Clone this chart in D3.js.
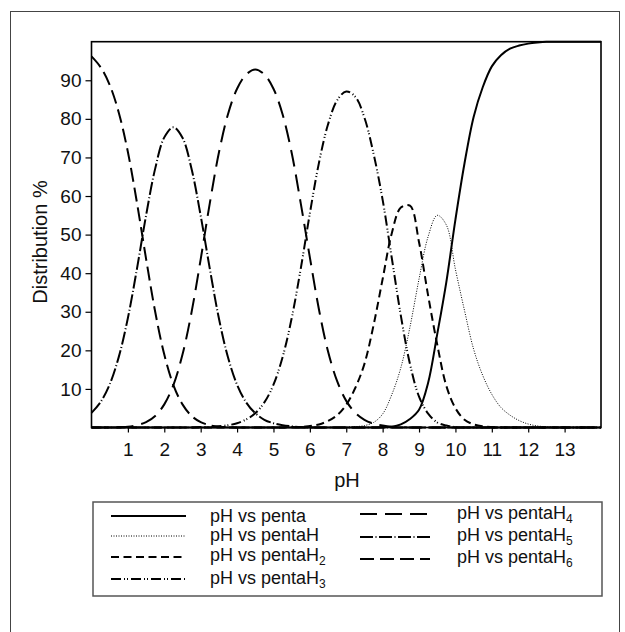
<!DOCTYPE html>
<html>
<head>
<meta charset="UTF-8">
<title>speciation</title>
<script src="https://d3js.org/d3.v7.min.js"></script>
<style>
 body { margin: 0; background: #fff; }
 text { font-family: "Liberation Sans", Arial, sans-serif; fill: #111; }
</style>
</head>
<body>
<svg id="chart" width="625" height="632"></svg>
<script>
// pH grid (x values)
var pH = [0, 0.25, 0.5, 0.75, 1, 1.25, 1.5, 1.75, 2, 2.25, 2.5, 2.75, 3, 3.25, 3.5, 3.75,
  4, 4.25, 4.5, 4.75, 5, 5.25, 5.5, 5.75, 6, 6.25, 6.5, 6.75, 7, 7.25, 7.5, 7.75,
  8, 8.25, 8.5, 8.75, 9, 9.25, 9.5, 9.75, 10, 10.25, 10.5, 10.75, 11, 11.25, 11.5, 11.75,
  12, 12.25, 12.5, 12.75, 13, 13.25, 13.5, 13.75, 14];

// distribution %
var penta = [0,0,0,0,0,0,0,0,0,0,0,0,0,0,0,0,0,0,0,0,0,0,0,0,0,0,0,0,0,0,0,0,
  0.1, 0.2, 0.8, 2.2, 4.6, 11.6, 24.2, 37.7, 53.9, 68.5, 80.5, 88.2, 93.6, 96.5, 98.2, 99.0,
  99.5, 99.8, 100, 100, 100, 100, 100, 100, 100];
var pentaH = [0,0,0,0,0,0,0,0,0,0,0,0,0,0,0,0,0,0,0,0,0,0,0,0,0,0,0,0,
  0.1, 0.2, 0.5, 1.3, 3.5, 8.5, 15.5, 26.0, 38.5, 49.5, 55.0, 52.5, 41.0, 30.3, 20.3, 13.5,
  8.6, 5.2, 3.2, 1.8, 0.9, 0.4, 0.2, 0.1, 0, 0, 0, 0, 0];
var pentaH2 = [0,0,0,0,0,0,0,0,0,0,0,0,0,0,0,0,0,0,0,0,0,0,
  0.1, 0.1, 0.4, 0.8, 1.7, 3.2, 5.9, 10.3, 16.5, 26.5, 38.5, 50.3, 57.0, 57.5, 48.0, 34.2,
  21.5, 10.8, 5.0, 2.0, 0.8, 0.3, 0.1, 0,0,0,0,0,0,0,0,0,0,0,0];
var pentaH3 = [0,0,0,0,0,0,0,0,0,0,0,0,
  0.1, 0.1, 0.3, 0.6, 1.1, 2.1, 3.7, 6.5, 11.1, 18.2, 28.3, 41.2, 55.5, 68.6, 78.6, 84.8,
  87.1, 85.7, 80.3, 71.0, 59.0, 44.0, 29.0, 16.5, 8.0, 3.6, 1.3, 0.5, 0.1,
  0,0,0,0,0,0,0,0,0,0,0,0,0,0,0,0];
var pentaH4 = [0, 0, 0, 0.1, 0.2, 0.6, 1.4, 3.0, 6.0, 11.0, 18.9, 29.9, 43.6, 58.1, 71.2, 81.2,
  87.8, 91.5, 92.8, 91.5, 87.8, 81.2, 71.2, 58.1, 44.1, 30.6, 19.7, 12.0, 6.9, 3.8, 2.0, 1.0,
  0.5, 0.2, 0.1, 0,0,0,0,0,0,0,0,0,0,0,0,0,0,0,0,0,0,0,0,0,0];
var pentaH5 = [3.8, 6.6, 11.2, 18.3, 28.4, 41.2, 55.0, 67.1, 75.2, 77.8, 75.1, 67.0, 54.9, 41.2, 28.3, 18.2,
  11.1, 6.5, 3.7, 2.0, 1.1, 0.6, 0.3, 0.1,
  0,0,0,0,0,0,0,0,0,0,0,0,0,0,0,0,0,0,0,0,0,0,0,0,0,0,0,0,0,0,0,0,0];
var pentaH6 = [96.2, 93.4, 88.8, 81.6, 71.4, 58.2, 43.7, 30.0, 18.9, 11.0, 6.0, 3.0, 1.4, 0.6, 0.2, 0.1,
  0,0,0,0,0,0,0,0,0,0,0,0,0,0,0,0,0,0,0,0,0,0,0,0,0,0,0,0,0,0,0,0,0,0,0,0,0,0,0,0,0];

var xTicks = [1,2,3,4,5,6,7,8,9,10,11,12,13];
var yTicks = [10,20,30,40,50,60,70,80,90];

var seriesNames = ["penta", "pentaH", "pentaH2", "pentaH3", "pentaH4", "pentaH5", "pentaH6"];
var seriesVals = [penta, pentaH, pentaH2, pentaH3, pentaH4, pentaH5, pentaH6];

// line styles per species
var styles = [
  {dash: null,            w: 2.0},
  {dash: "1,1.5",         w: 1.0},
  {dash: "8,4.5",         w: 2.0},
  {dash: "10,3,1,2,1,3",  w: 2.0},
  {dash: "17,8",          w: 2.0},
  {dash: "13,2.5,1,2.5",  w: 2.0},
  {dash: "14,6",          w: 2.0}
];

var svg = d3.select("#chart");
svg.append("rect").attr("width", 625).attr("height", 632).attr("fill", "#fff");

// outer frame
svg.append("rect")
  .attr("x", 10.5).attr("y", 11.5).attr("width", 609).attr("height", 640)
  .attr("fill", "none").attr("stroke", "#444").attr("stroke-width", 1);

var L = 91.5, R = 601, T = 41.7, B = 427.5;

var x = d3.scaleLinear().domain([0, 14]).range([L, R]);
var y = d3.scaleLinear().domain([0, 100]).range([B, T]);

var g = svg.append("g");

var line = d3.line()
  .x(function(d, i) { return x(pH[i]); })
  .y(function(d) { return y(d); })
  .curve(d3.curveCatmullRom.alpha(0.5));

seriesVals.forEach(function(vals, k) {
  g.append("path")
    .datum(vals)
    .attr("d", line)
    .attr("fill", "none")
    .attr("stroke", "#000")
    .attr("stroke-width", styles[k].w)
    .attr("stroke-dasharray", styles[k].dash);
});

// plot frame
svg.append("rect")
  .attr("x", L).attr("y", T).attr("width", R - L).attr("height", B - T)
  .attr("fill", "none").attr("stroke", "#000").attr("stroke-width", 1.6);

var yAxis = d3.axisLeft(y).tickValues(yTicks).tickSize(6).tickSizeOuter(0).tickPadding(4);
var gy = svg.append("g").attr("transform", "translate(" + L + ",0)").call(yAxis);
gy.select(".domain").remove();
gy.selectAll("line").attr("stroke", "#000").attr("stroke-width", 1.2);
gy.selectAll("text").style("font-size", "19px").style("font-family", '"Liberation Sans", Arial, sans-serif').attr("fill", "#111");

var xAxis = d3.axisBottom(x).tickValues(xTicks).tickSize(5).tickSizeOuter(0).tickPadding(10);
var gx = svg.append("g").attr("transform", "translate(0," + B + ")").call(xAxis);
gx.select(".domain").remove();
gx.selectAll("line").attr("stroke", "#000").attr("stroke-width", 1.2);
gx.selectAll("text").style("font-size", "19px").style("font-family", '"Liberation Sans", Arial, sans-serif').attr("fill", "#111");

// axis titles
svg.append("text")
  .attr("x", 347).attr("y", 487)
  .attr("text-anchor", "middle")
  .style("font-size", "20px")
  .text("pH");

svg.append("text")
  .attr("transform", "translate(47,242) rotate(-90)")
  .attr("text-anchor", "middle")
  .style("font-size", "20px")
  .text("Distribution %");

// legend
svg.append("rect")
  .attr("x", 93).attr("y", 502).attr("width", 509).attr("height", 94)
  .attr("fill", "none").attr("stroke", "#555").attr("stroke-width", 1.5);

var legendPos = [
  {lx: 111, len: 75, tx: 210, ly: 516, ty: 522},
  {lx: 111, len: 75, tx: 210, ly: 536, ty: 541},
  {lx: 111, len: 75, tx: 210, ly: 557, ty: 561},
  {lx: 111, len: 75, tx: 210, ly: 579, ty: 584},
  {lx: 360, len: 70, tx: 457, ly: 514, ty: 519},
  {lx: 360, len: 70, tx: 457, ly: 537, ty: 541},
  {lx: 360, len: 70, tx: 457, ly: 559, ty: 563}
];
var subs = ["", "", "2", "3", "4", "5", "6"];

seriesNames.forEach(function(name, k) {
  var p = legendPos[k];
  svg.append("line")
    .attr("x1", p.lx).attr("x2", p.lx + p.len)
    .attr("y1", p.ly).attr("y2", p.ly)
    .attr("stroke", "#000")
    .attr("stroke-width", styles[k].w)
    .attr("stroke-dasharray", styles[k].dash);
  var t = svg.append("text")
    .attr("x", p.tx).attr("y", p.ty)
    .style("font-size", "18px");
  var base = subs[k] ? name.slice(0, -1) : name;
  t.append("tspan").text("pH vs " + base);
  if (subs[k]) {
    t.append("tspan").attr("dy", 4).style("font-size", "12px").text(subs[k]);
  }
});
</script>
</body>
</html>
